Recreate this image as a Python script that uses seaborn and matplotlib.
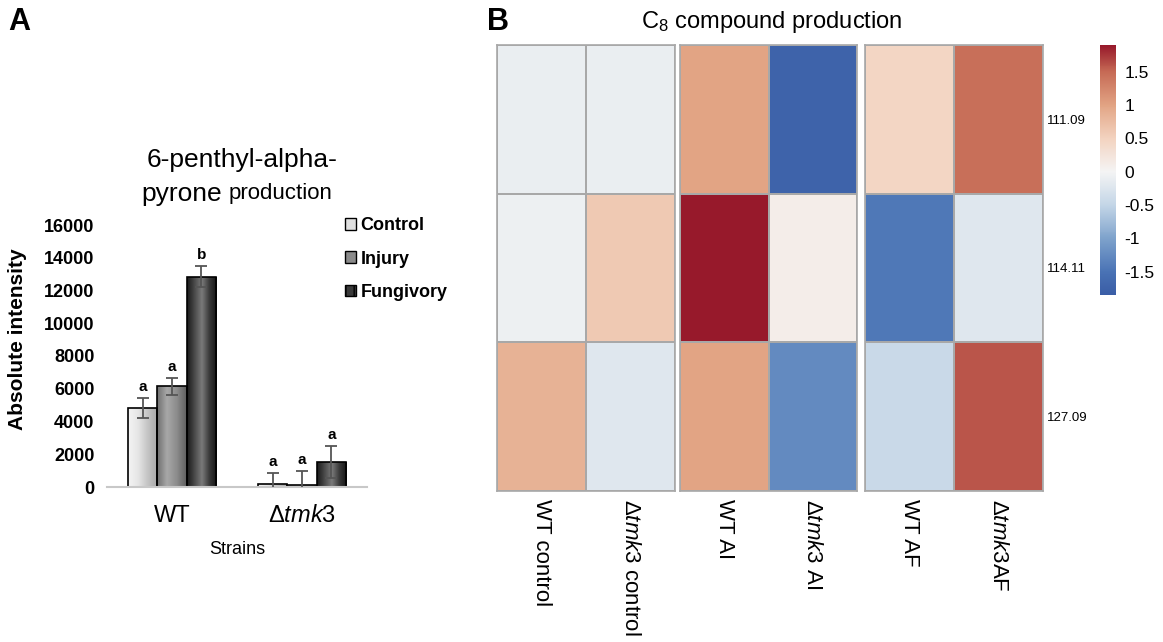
import numpy as np
import pandas as pd
import matplotlib
matplotlib.use("Agg")
import matplotlib.pyplot as plt
import seaborn as sns
from matplotlib.patches import Patch
from matplotlib.colors import LinearSegmentedColormap

# ---- panel A data ----
strains = ["WT", "tmk3"]
treatments = ["Control", "Injury", "Fungivory"]
means = {"Control": [4820, 200], "Injury": [6140, 150], "Fungivory": [12840, 1550]}
errors = {"Control": [590, 670], "Injury": [530, 840], "Fungivory": [650, 970]}
letters = {"Control": ["a", "a"], "Injury": ["a", "a"], "Fungivory": ["b", "a"]}

# ---- panel B data ----
compounds = ["111.09", "114.11", "127.09"]
col_labels = ["WT control", r"$\Delta\mathit{tmk3}$ control", "WT AI",
              r"$\Delta\mathit{tmk3}$ AI", "WT AF", r"$\Delta\mathit{tmk3}$AF"]
wt_control = [-0.10, -0.07, 0.85]
ko_control = [-0.10, 0.60, -0.22]
wt_ai = [1.00, 1.90, 1.00]
ko_ai = [-1.75, 0.10, -1.25]
wt_af = [0.45, -1.45, -0.45]
ko_af = [1.45, -0.22, 1.60]

sns.set_theme(style="white")
plt.rcParams["font.family"] = ["Liberation Sans", "DejaVu Sans"]
plt.rcParams["mathtext.fontset"] = "custom"
plt.rcParams["mathtext.rm"] = "Liberation Sans"
plt.rcParams["mathtext.it"] = "Liberation Sans:italic"
for key in ["text.color", "axes.labelcolor", "xtick.color", "ytick.color"]:
    plt.rcParams[key] = "black"

W, H = 1163, 642
fig = plt.figure(figsize=(W / 100, H / 100), dpi=100)


def box(l, t, r, b):
    return [l / W, 1 - b / H, (r - l) / W, (b - t) / H]


# ================= Panel A =================
rows = []
for t in treatments:
    for i, s in enumerate(strains):
        rows.append({"strain": s, "treatment": t, "value": means[t][i]})
df = pd.DataFrame(rows)

ax = fig.add_axes(box(107, 225, 367, 487))
sns.barplot(data=df, x="strain", y="value", hue="treatment", order=strains,
            hue_order=treatments, width=0.68, errorbar=None, legend=False,
            palette=["#d8d8d8", "#8a8a8a", "#2a2a2a"], edgecolor="black",
            linewidth=1.2, ax=ax)

grads = {
    "Control": ["#f4f4f4", "#e6e6e6", "#c4c4c4", "#a8a8a8"],
    "Injury": ["#707070", "#a8a8a8", "#8c8c8c", "#5e5e5e"],
    "Fungivory": ["#1a1a1a", "#4a4a4a", "#7a7a7a", "#3a3a3a", "#141414"],
}
for t, cont in zip(treatments, ax.containers):
    cmap = LinearSegmentedColormap.from_list(t, grads[t])
    for i, bar in enumerate(cont):
        x0, y0 = bar.get_x(), bar.get_y()
        w, h = bar.get_width(), bar.get_height()
        im = ax.imshow(np.linspace(0, 1, 64).reshape(1, -1), cmap=cmap, aspect="auto",
                       extent=[x0, x0 + w, y0, y0 + h], zorder=1.5)
        im.set_clip_path(bar)
        bar.set_facecolor("none")
        bar.set_zorder(2)
        cx = x0 + w / 2
        ax.errorbar(cx, h, yerr=errors[t][i], color="#555555", capsize=4.5,
                    elinewidth=1.3, capthick=1.3, zorder=3)
        ax.text(cx, h + errors[t][i] + 250, letters[t][i], ha="center", va="bottom",
                fontsize=11, fontweight="bold")

ax.set_xlim(-0.5, 1.5)
ax.set_ylim(0, 16000)
ax.set_yticks(np.arange(0, 16001, 2000))
ax.tick_params(axis="y", labelsize=13, length=0, pad=9)
for lab in ax.get_yticklabels():
    lab.set_fontweight("bold")
ax.set_xticks([0, 1])
ax.set_xticklabels(["WT", r"$\Delta\mathit{tmk3}$"], fontsize=17)
ax.tick_params(axis="x", pad=7)
ax.set_xlabel("Strains", fontsize=13, labelpad=10)
ax.set_ylabel("Absolute intensity", fontsize=15, fontweight="bold")
ax.yaxis.set_label_coords((27 - 107) / 260, (487 - 339) / 262)
for side in ["top", "right", "left"]:
    ax.spines[side].set_visible(False)
ax.spines["bottom"].set_color("#c8c8c8")
ax.spines["bottom"].set_linewidth(1.5)
ax.patch.set_alpha(0)

fig.text(242 / W, 1 - 160 / H, "6-penthyl-alpha-", ha="center", va="center", fontsize=19)
fig.text(222 / W, 1 - 194 / H, "pyrone", ha="right", va="center", fontsize=19)
fig.text(229 / W, 1 - 194 / H, "production", ha="left", va="center", fontsize=16)

handles = [Patch(facecolor="#e0e0e0", edgecolor="black"),
           Patch(facecolor="#8a8a8a", edgecolor="black"),
           Patch(facecolor="#3a3a3a", edgecolor="black", hatch="||")]
leg = fig.legend(handles, treatments, loc="upper left", bbox_to_anchor=(329 / W, 1 - 201 / H),
                 frameon=False, handlelength=0.6, handleheight=0.6, handletextpad=0.25,
                 labelspacing=0.9, prop={"weight": "bold", "size": 13})

fig.text(8 / W, 1 - 22 / H, "A", fontsize=22, fontweight="bold", va="center")
fig.text(487 / W, 1 - 22 / H, "B", fontsize=22, fontweight="bold", va="center")

# ================= Panel B =================
heat = pd.DataFrame({col_labels[0]: wt_control, col_labels[1]: ko_control,
                     col_labels[2]: wt_ai, col_labels[3]: ko_ai,
                     col_labels[4]: wt_af, col_labels[5]: ko_af}, index=compounds)

vmin, vmax = -1.85, 1.9
anchors = [(-1.85, "#3a5da6"), (-1.5, "#4a73b5"), (-1.0, "#7fa3cc"), (-0.5, "#c4d6e7"),
           (0.0, "#f4f4f4"), (0.5, "#f3d3c0"), (1.0, "#e2a484"), (1.5, "#c66a55"),
           (1.9, "#97192b")]
heat_cmap = LinearSegmentedColormap.from_list(
    "muted_rdbu", [((v - vmin) / (vmax - vmin), c) for v, c in anchors])

panels = [(497, 675), (680, 857), (865, 1043)]
cax = fig.add_axes(box(1100, 45, 1116, 295))
for k, (l, r) in enumerate(panels):
    hax = fig.add_axes(box(l, 45, r, 491))
    last = k == 2
    sns.heatmap(heat.iloc[:, 2 * k:2 * k + 2], cmap=heat_cmap, vmin=vmin, vmax=vmax,
                linewidths=1.2, linecolor="#a8a8a8", cbar=last,
                cbar_ax=cax if last else None, ax=hax)
    for side in hax.spines.values():
        side.set_visible(True)
        side.set_color("#a8a8a8")
        side.set_linewidth(1.2)
    hax.tick_params(left=False, bottom=False, right=False)
    hax.set_xticklabels(hax.get_xticklabels(), rotation=270, fontsize=16, va="top")
    hax.tick_params(axis="x", length=0, pad=6)
    if last:
        hax.yaxis.tick_right()
        hax.set_yticklabels(compounds, rotation=0, fontsize=9.5)
        hax.tick_params(axis="y", right=False, length=0, pad=3)
    else:
        hax.set_yticks([])
    hax.set_ylabel("")

cax.set_yticks([-1.5, -1, -0.5, 0, 0.5, 1, 1.5])
cax.set_yticklabels(["-1.5", "-1", "-0.5", "0", "0.5", "1", "1.5"], fontsize=12.5)
cax.tick_params(right=False, length=0, pad=6)
cax.spines[:].set_visible(False)

fig.text(772 / W, 1 - 22 / H, "C$_8$ compound production", ha="center", va="center", fontsize=17)

fig.savefig("out.png", dpi=100, facecolor="white")
